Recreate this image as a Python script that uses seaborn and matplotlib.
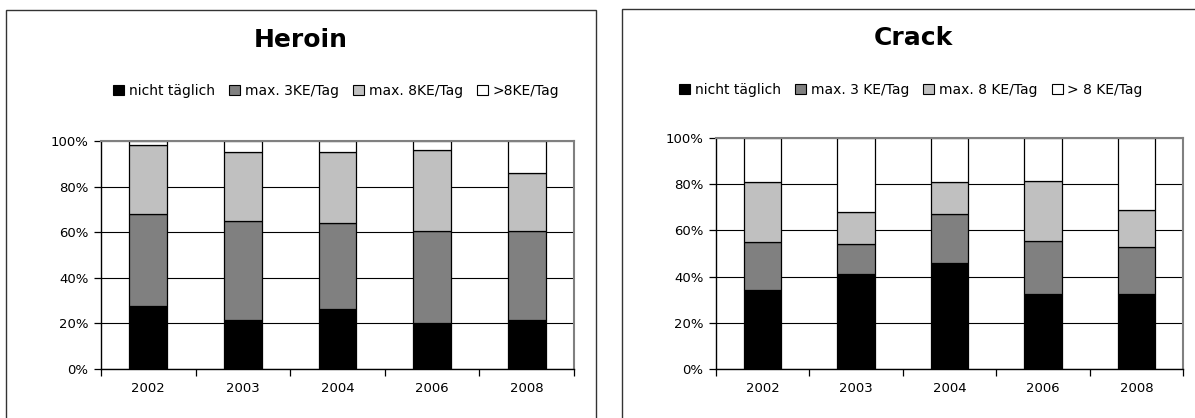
"""Heroin / Crack consumption intensity, stacked percentage bars."""

import matplotlib.pyplot as plt
import seaborn as sns
from matplotlib.patches import Patch, Rectangle
from matplotlib.ticker import FuncFormatter, MultipleLocator

sns.set_theme(style="ticks")
plt.rcParams["font.family"] = ["DejaVu Sans"]
plt.rcParams["text.color"] = "black"
plt.rcParams["xtick.color"] = "black"
plt.rcParams["ytick.color"] = "black"
plt.rcParams["xtick.labelcolor"] = "black"
plt.rcParams["ytick.labelcolor"] = "black"

years = ["2002", "2003", "2004", "2006", "2008"]

heroin_labels = ["nicht täglich", "max. 3KE/Tag", "max. 8KE/Tag", ">8KE/Tag"]
heroin_nicht_taeglich = [27.7, 21.5, 26.3, 20.3, 21.5]
heroin_max3 = [40.3, 43.3, 37.8, 40.1, 38.9]
heroin_max8 = [30.1, 30.2, 30.9, 35.8, 25.7]
heroin_ueber8 = [1.9, 5.0, 5.0, 3.8, 13.9]

crack_labels = ["nicht täglich", "max. 3 KE/Tag", "max. 8 KE/Tag", "> 8 KE/Tag"]
crack_nicht_taeglich = [34.1, 41.2, 46.0, 32.5, 32.4]
crack_max3 = [20.7, 13.0, 21.3, 23.1, 20.6]
crack_max8 = [26.0, 13.7, 13.8, 25.9, 15.8]
crack_ueber8 = [19.2, 32.1, 18.9, 18.5, 31.2]

colors = ["#000000", "#808080", "#c0c0c0", "#ffffff"]


def stacked_panel(ax, series, labels, title, title_xy, legend_xy):
    bottom = [0.0] * len(years)
    for values, color in zip(series, colors):
        sns.barplot(
            x=years,
            y=values,
            order=years,
            bottom=bottom,
            color=color,
            width=0.4,
            edgecolor="black",
            linewidth=0.9,
            errorbar=None,
            saturation=1,
            ax=ax,
        )
        bottom = [b + v for b, v in zip(bottom, values)]

    ax.set_xlim(-0.5, len(years) - 0.5)
    ax.set_ylim(0, 100)
    ax.yaxis.set_major_locator(MultipleLocator(20))
    ax.yaxis.set_major_formatter(FuncFormatter(lambda v, _: f"{v:.0f}%"))
    ax.set_xticks([i - 0.5 for i in range(len(years) + 1)], minor=False)
    ax.set_xticklabels([])
    ax.set_xticks(range(len(years)), minor=True)
    ax.set_xticklabels(years, minor=True)
    ax.tick_params(axis="x", which="minor", length=0, pad=9, labelsize=9.5, labelcolor="black")
    ax.tick_params(axis="x", which="major", length=5, width=0.9, direction="out", color="black")
    ax.tick_params(axis="y", length=5, width=0.9, direction="out", labelsize=9.5, pad=4,
                   color="black", labelcolor="black")
    ax.grid(axis="y", color="black", linewidth=0.8)
    ax.set_axisbelow(True)
    for side in ("left", "bottom"):
        ax.spines[side].set_color("black")
        ax.spines[side].set_linewidth(1.0)
    for side in ("top", "right"):
        ax.spines[side].set_visible(True)
        ax.spines[side].set_color("#808080")
        ax.spines[side].set_linewidth(1.5)
    ax.set_xlabel("")
    ax.set_ylabel("")

    fig = ax.figure
    fig.text(*title_xy, title, ha="center", va="center", fontsize=18, fontweight="bold",
             color="black")
    handles = [Patch(facecolor=c, edgecolor="black", linewidth=0.8) for c in colors]
    fig.legend(
        handles,
        labels,
        loc="center",
        bbox_to_anchor=legend_xy,
        ncol=4,
        frameon=False,
        fontsize=10,
        labelcolor="black",
        handlelength=0.8,
        handleheight=0.8,
        handletextpad=0.35,
        columnspacing=1.0,
        borderaxespad=0,
    )


fig = plt.figure(figsize=(11.95, 4.18), dpi=100)
ax_heroin = fig.add_axes([0.0845, 0.1172, 0.3958, 0.5455])
ax_crack = fig.add_axes([0.5992, 0.1172, 0.3908, 0.5526])

stacked_panel(
    ax_heroin,
    [heroin_nicht_taeglich, heroin_max3, heroin_max8, heroin_ueber8],
    heroin_labels,
    "Heroin",
    (0.2519, 0.9043),
    (0.2812, 0.7823),
)
stacked_panel(
    ax_crack,
    [crack_nicht_taeglich, crack_max3, crack_max8, crack_ueber8],
    crack_labels,
    "Crack",
    (0.764, 0.909),
    (0.7623, 0.7847),
)

# chart frames around the two panels
fig.patches.append(Rectangle((0.005, -0.05), 0.4937, 1.026, transform=fig.transFigure,
                             fill=False, edgecolor="#333333", linewidth=1.0))
fig.patches.append(Rectangle((0.5205, -0.05), 0.55, 1.0285, transform=fig.transFigure,
                             fill=False, edgecolor="#333333", linewidth=1.0))

fig.savefig("out.png", dpi=100)
